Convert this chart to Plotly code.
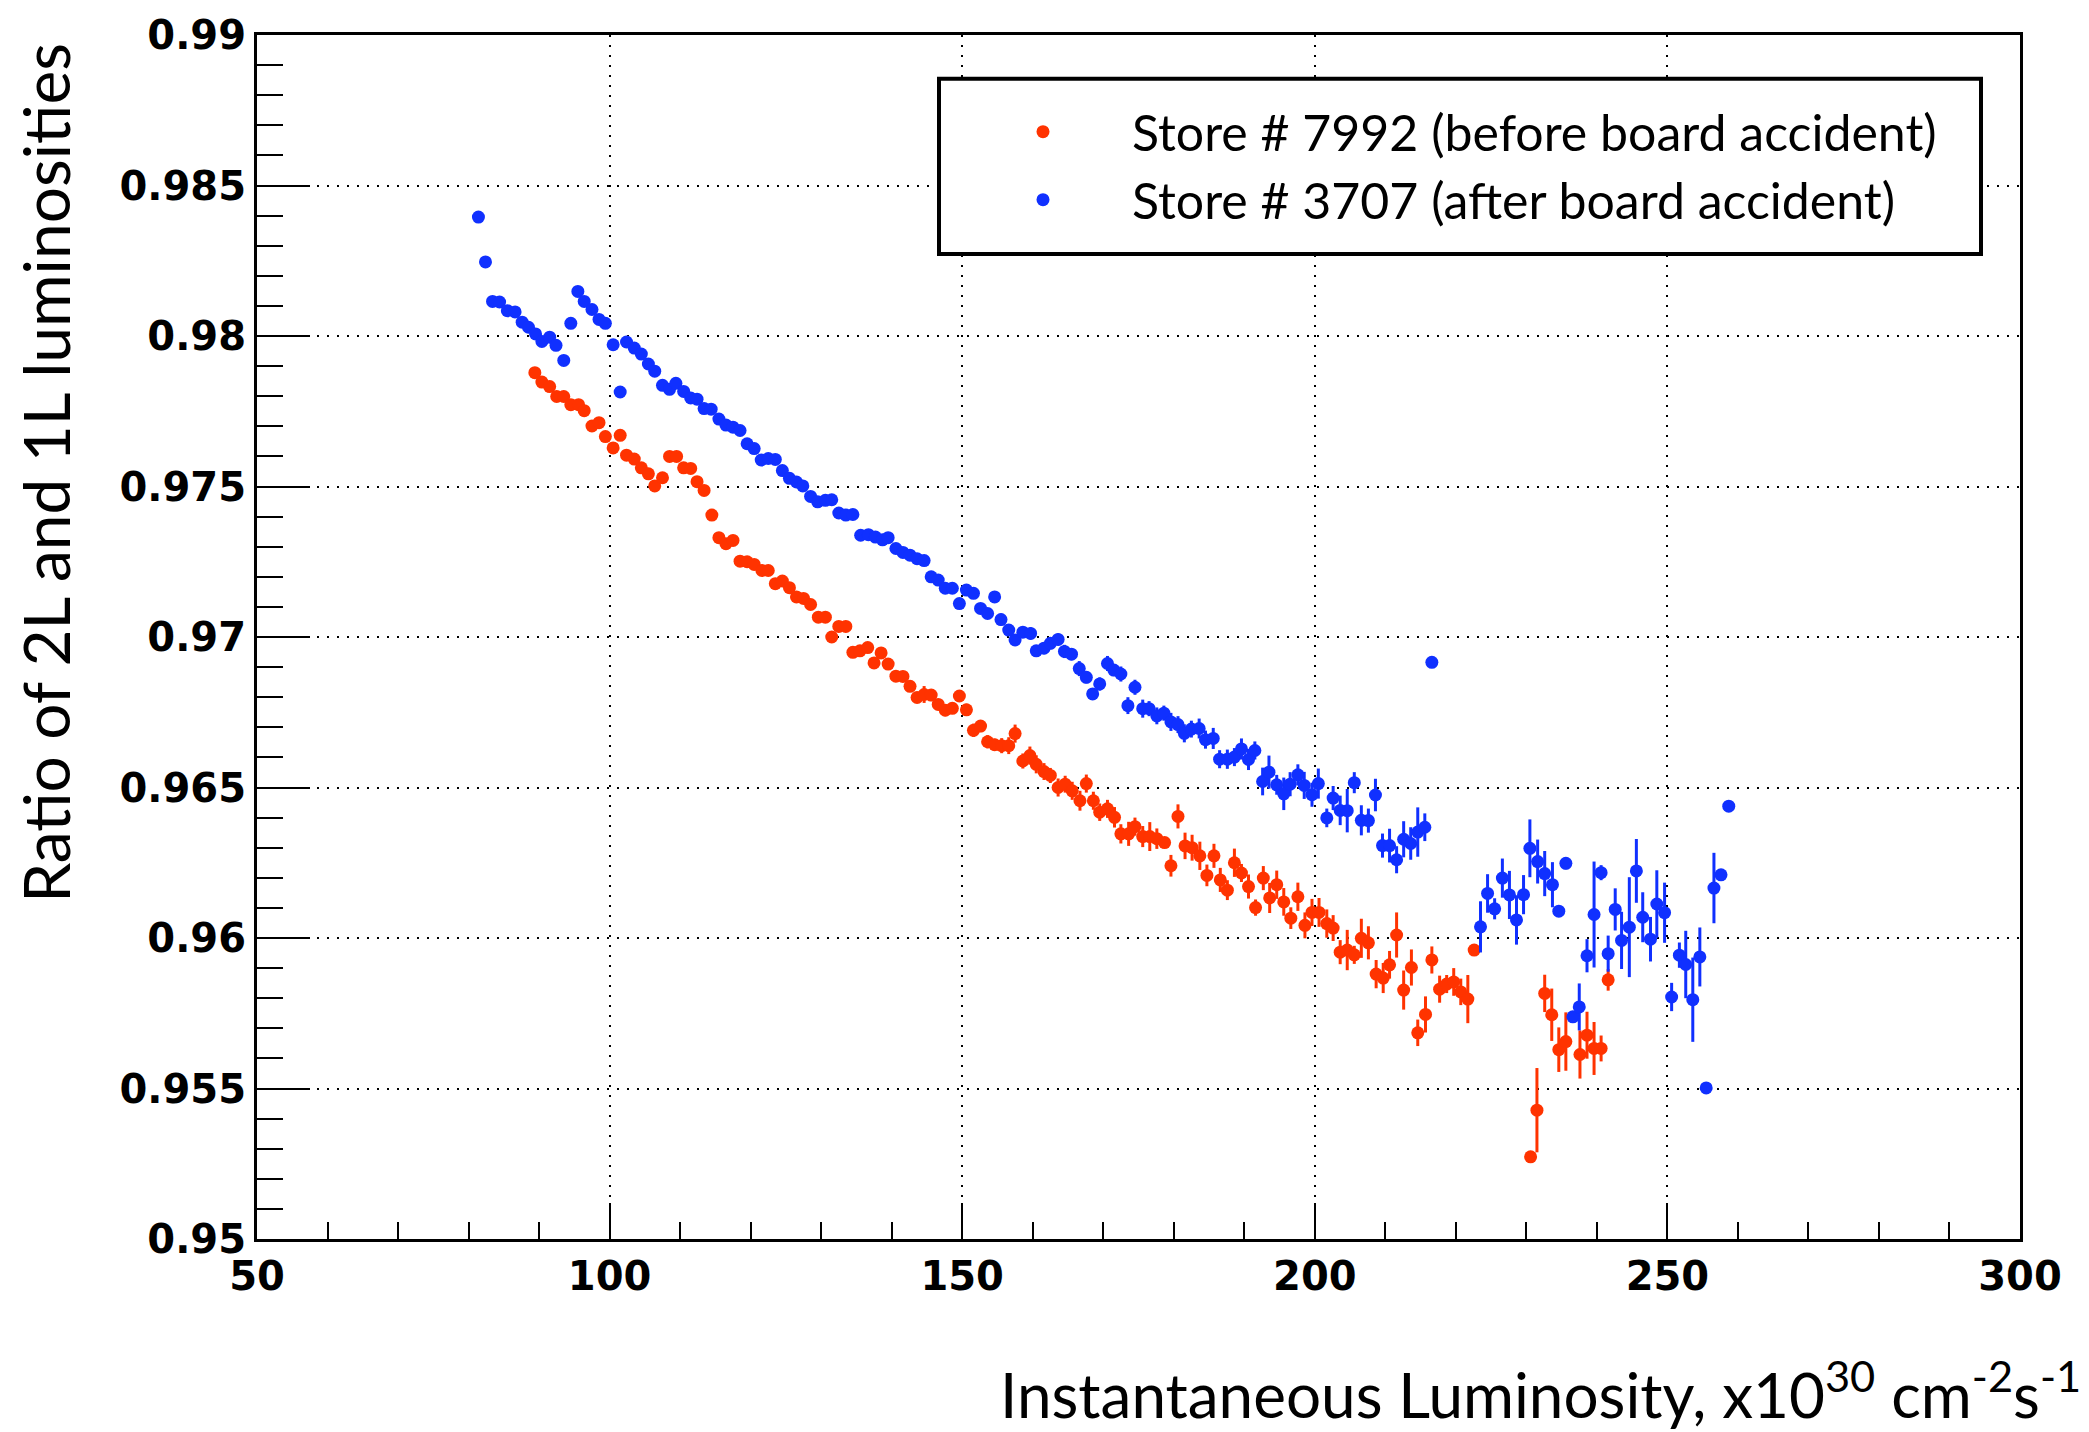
import plotly.graph_objects as go

# ---------------- data ----------------
red_x = [89.4, 90.4, 91.5, 92.5, 93.5, 94.5, 95.6, 96.4, 97.5, 98.5, 99.4, 100.5, 101.5, 102.4, 103.5,
         104.5, 105.5, 106.4, 107.5, 108.5, 109.5, 110.5, 111.5, 112.4, 113.4, 114.5, 115.5, 116.5,
         117.5, 118.5, 119.5, 120.5, 121.6, 122.5, 123.5, 124.5, 125.5, 126.5, 127.5, 128.5, 129.6,
         130.6, 131.5, 132.5, 133.5, 134.5, 135.5, 136.6, 137.5, 138.5, 139.5, 140.6, 141.6, 142.6,
         143.6, 144.6, 145.6, 146.6, 147.6, 148.6, 149.6, 150.6, 151.6, 152.6, 153.6, 154.6, 155.6,
         156.6, 157.5, 158.6, 159.6, 160.5, 161.6, 162.5, 163.6, 164.6, 165.6, 166.7, 167.6, 168.6,
         169.5, 170.6, 171.6, 172.5, 173.6, 174.5, 175.6, 176.6, 177.6, 178.7, 179.6, 180.6, 181.6,
         182.6, 183.7, 184.7, 185.7, 186.6, 187.6, 188.6, 189.6, 190.6, 191.6, 192.7, 193.6, 194.6,
         195.6, 196.6, 197.6, 198.6, 199.6, 200.6, 201.7, 202.6, 203.6, 204.6, 205.6, 206.6, 207.6,
         208.7, 209.7, 210.6, 211.6, 212.6, 213.7, 214.6, 215.7, 216.6, 217.7, 218.7, 219.7, 220.7,
         221.7, 222.6, 230.6, 231.5, 232.6, 233.6, 234.6, 235.6, 237.6, 238.6, 239.6, 240.6, 241.6]
red_y = [0.97878, 0.97847, 0.97832, 0.97799, 0.97799, 0.97772, 0.97772, 0.97752, 0.97701, 0.97712,
         0.97666, 0.97628, 0.97670, 0.97604, 0.97591, 0.97562, 0.97542, 0.97502, 0.97529, 0.97600,
         0.97600, 0.97562, 0.97560, 0.97516, 0.97487, 0.97405, 0.97330, 0.97310, 0.97321, 0.97252,
         0.97250, 0.97241, 0.97221, 0.97221, 0.97177, 0.97186, 0.97164, 0.97133, 0.97128, 0.97108,
         0.97066, 0.97066, 0.97000, 0.97035, 0.97035, 0.96949, 0.96954, 0.96965, 0.96914, 0.96947,
         0.96910, 0.96870, 0.96869, 0.96836, 0.96799, 0.96809, 0.96807, 0.96776, 0.96757, 0.96763,
         0.96804, 0.96758, 0.96690, 0.96704, 0.96652, 0.96642, 0.96639, 0.96639, 0.96679, 0.96588,
         0.96606, 0.96577, 0.96553, 0.96540, 0.96500, 0.96511, 0.96489, 0.96456, 0.96513, 0.96456,
         0.96418, 0.96429, 0.96401, 0.96346, 0.96346, 0.96370, 0.96337, 0.96337, 0.96330, 0.96317,
         0.96240, 0.96404, 0.96306, 0.96300, 0.96273, 0.96208, 0.96273, 0.96193, 0.96159, 0.96250,
         0.96216, 0.96171, 0.96101, 0.96199, 0.96133, 0.96177, 0.96120, 0.96066, 0.96137, 0.96042,
         0.96085, 0.96085, 0.96048, 0.96033, 0.95953, 0.95960, 0.95944, 0.95999, 0.95984, 0.95880,
         0.95867, 0.95911, 0.96010, 0.95827, 0.95902, 0.95685, 0.95746, 0.95927, 0.95830, 0.95847,
         0.95854, 0.95821, 0.95797, 0.95960, 0.95273, 0.95428, 0.95816, 0.95745, 0.95629, 0.95656,
         0.95613, 0.95677, 0.95633, 0.95633, 0.95861]
# error bars, laid out line by line like red_x
red_err = [0.00005, 0.00005, 0.00005, 0.00005, 0.00005, 0.00005, 0.00005, 0.00005, 0.00005, 0.00005,
           0.00005, 0.00005, 0.00005, 0.00005, 0.00005,
           0.00005, 0.00005, 0.00005, 0.00005, 0.00005, 0.00005, 0.00005, 0.00005, 0.00005, 0.00005,
           0.00005, 0.00005, 0.00005,
           0.00006, 0.00006, 0.00006, 0.00006, 0.00006, 0.00006, 0.00006, 0.00006, 0.00006, 0.00006,
           0.00006, 0.00006, 0.00006,
           0.00008, 0.00008, 0.00008, 0.00008, 0.00008, 0.00008, 0.00008, 0.00008, 0.00008, 0.00008,
           0.0001, 0.0001, 0.00015,
           0.00018, 0.00028, 0.0002, 0.00018, 0.0002, 0.00015, 0.0002, 0.0002, 0.00022, 0.0002,
           0.00022, 0.0002, 0.00025,
           0.00028, 0.0003, 0.00025, 0.0003, 0.0003, 0.00028, 0.00025, 0.0003, 0.00028, 0.0003,
           0.00033, 0.0003, 0.0003,
           0.00029, 0.0003, 0.00034, 0.00032, 0.0004, 0.0003, 0.00035, 0.00048, 0.00034, 0.00018,
           0.00036, 0.0004, 0.00044,
           0.00043, 0.00047, 0.00036, 0.0004, 0.0004, 0.00033, 0.00047, 0.0003, 0.0004, 0.00027,
           0.0004, 0.0005, 0.00047,
           0.00046, 0.00036, 0.00047, 0.00043, 0.00045, 0.00048, 0.00047, 0.00043, 0.0004, 0.00067,
           0.0003, 0.00065, 0.00055,
           0.00047, 0.0005, 0.00046, 0.00075, 0.00065, 0.0006, 0.00044, 0.0006, 0.00045, 0.00045,
           0.0003, 0.00046, 0.00044,
           0.0008, 0.0001, 0.0001, 0.0014, 0.00062, 0.00087, 0.00074, 0.00097, 0.0008, 0.00078,
           0.00088, 0.00043, 0.00036]

blue_x = [81.4, 82.4, 83.4, 84.4, 85.5, 86.6, 87.6, 88.5, 89.5, 90.4, 91.5, 92.4, 93.5, 94.5, 95.5,
          96.4, 97.5, 98.5, 99.4, 100.5, 101.5, 102.4, 103.5, 104.5, 105.5, 106.4, 107.5, 108.5,
          109.4, 110.5, 111.5, 112.4, 113.4, 114.4, 115.5, 116.5, 117.5, 118.5, 119.5, 120.5, 121.5,
          122.5, 123.5, 124.5, 125.5, 126.5, 127.4, 128.5, 129.5, 130.6, 131.5, 132.5, 133.5, 134.5,
          135.6, 136.7, 137.7, 138.7, 139.5, 140.6, 141.6, 142.6, 143.6, 144.6, 145.6, 146.6, 147.6,
          148.6, 149.6, 150.6, 151.6, 152.6, 153.6, 154.6, 155.5, 156.6, 157.5, 158.6, 159.7, 160.5,
          161.6, 162.5, 163.6, 164.5, 165.5, 166.6, 167.6, 168.5, 169.5, 170.6, 171.5, 172.5, 173.5,
          174.5, 175.6, 176.5, 177.6, 178.6, 179.6, 180.6, 181.5, 182.5, 183.6, 184.5, 185.6, 186.5,
          187.6, 188.6, 189.6, 190.6, 191.5, 192.6, 193.5, 194.6, 195.6, 196.5, 197.6, 198.5, 199.6,
          200.5, 201.7, 202.6, 203.6, 204.6, 205.6, 206.6, 207.6, 208.6, 209.6, 210.6, 211.6, 212.6,
          213.6, 214.6, 215.6, 216.6, 223.5, 224.5, 225.5, 226.6, 227.6, 228.6, 229.6, 230.5, 231.6,
          232.6, 233.7, 234.6, 235.6, 236.6, 237.5, 238.6, 239.6, 240.6, 241.6, 242.6, 243.5, 244.6,
          245.6, 246.5, 247.6, 248.5, 249.6, 250.6, 251.7, 252.6, 253.6, 254.6, 255.5, 256.6, 257.6,
          258.7]
blue_y = [0.98395, 0.98246, 0.98115, 0.98113, 0.98084, 0.98080, 0.98046, 0.98029, 0.98007, 0.97982,
          0.97996, 0.97969, 0.97919, 0.98042, 0.98148, 0.98115, 0.98088, 0.98055, 0.98042, 0.97971,
          0.97814, 0.97980, 0.97960, 0.97940, 0.97907, 0.97883, 0.97836, 0.97823, 0.97843, 0.97816,
          0.97794, 0.97790, 0.97759, 0.97757, 0.97724, 0.97704, 0.97697, 0.97686, 0.97642, 0.97626,
          0.97588, 0.97593, 0.97590, 0.97553, 0.97527, 0.97515, 0.97502, 0.97467, 0.97449, 0.97454,
          0.97456, 0.97412, 0.97405, 0.97407, 0.97338, 0.97340, 0.97332, 0.97323, 0.97330, 0.97294,
          0.97281, 0.97272, 0.97260, 0.97254, 0.97200, 0.97189, 0.97162, 0.97162, 0.97111, 0.97156,
          0.97145, 0.97095, 0.97078, 0.97133, 0.97058, 0.97023, 0.96990, 0.97016, 0.97012, 0.96954,
          0.96963, 0.96979, 0.96992, 0.96952, 0.96943, 0.96895, 0.96866, 0.96811, 0.96844, 0.96912,
          0.96890, 0.96877, 0.96772, 0.96833, 0.96762, 0.96762, 0.96738, 0.96747, 0.96718, 0.96709,
          0.96680, 0.96694, 0.96696, 0.96659, 0.96663, 0.96594, 0.96594, 0.96601, 0.96628, 0.96593,
          0.96623, 0.96520, 0.96551, 0.96509, 0.96479, 0.96511, 0.96542, 0.96507, 0.96476, 0.96513,
          0.96399, 0.96465, 0.96424, 0.96423, 0.96516, 0.96391, 0.96390, 0.96475, 0.96307, 0.96307,
          0.96260, 0.96328, 0.96314, 0.96352, 0.96368, 0.96916, 0.96037, 0.96148, 0.96097, 0.96199,
          0.96143, 0.96060, 0.96144, 0.96298, 0.96254, 0.96214, 0.96177, 0.96089, 0.96248, 0.95738,
          0.95771, 0.95941, 0.96078, 0.96217, 0.95948, 0.96095, 0.95992, 0.96036, 0.96223, 0.96069,
          0.95996, 0.96113, 0.96084, 0.95804, 0.95943, 0.95912, 0.95795, 0.95937, 0.95502, 0.96166,
          0.96210, 0.96438]
# error bars, laid out line by line like blue_x
blue_err = [0.0001, 0.00008, 0.00008, 0.00008, 0.00008, 0.00008, 0.00008, 0.00008, 0.00008, 0.00008,
            0.00008, 0.00008, 0.00008, 0.00008, 0.00008,
            0.00008, 0.00008, 0.00008, 0.00008, 0.00008, 0.00008, 0.00008, 0.00008, 0.00008, 0.00008,
            0.00008, 0.00008, 0.00008,
            0.00008, 0.00008, 0.00008, 0.00008, 0.00008, 0.00008, 0.00008, 0.00008, 0.00008, 0.00008,
            0.00008, 0.00008, 0.00008,
            0.0001, 0.0001, 0.0001, 0.0001, 0.0001, 0.0001, 0.0001, 0.0001, 0.0001, 0.0001,
            0.0001, 0.0001, 0.0001,
            0.0001, 0.0001, 0.0001, 0.0001, 0.0001, 0.00012, 0.00012, 0.00012, 0.00012, 0.00012,
            0.00012, 0.00012, 0.00012,
            0.00012, 0.00015, 0.00015, 0.00015, 0.00015, 0.00018, 0.00015, 0.0002, 0.00018, 0.0002,
            0.00015, 0.0002, 0.00018,
            0.0002, 0.0002, 0.0002, 0.00022, 0.0002, 0.00025, 0.0002, 0.00018, 0.00022, 0.00025,
            0.0002, 0.00025, 0.00028,
            0.00025, 0.0003, 0.00025, 0.00028, 0.00025, 0.0003, 0.00028, 0.0003, 0.00028, 0.00033,
            0.0003, 0.00035, 0.0003,
            0.00032, 0.0003, 0.00035, 0.00035, 0.0003, 0.00046, 0.00055, 0.00033, 0.00054, 0.0004,
            0.00035, 0.00045, 0.0004,
            0.0005, 0.00031, 0.0004, 0.00049, 0.00072, 0.00035, 0.0005, 0.0004, 0.00054, 0.0004,
            0.00056, 0.00045, 0.0006,
            0.00054, 0.00082, 0.00046, 0.00005, 0.00085, 0.00064, 0.00035, 0.00065, 0.0008, 0.00082,
            0.00065, 0.00096, 0.00073,
            0.00075, 0.00075, 0.00015, 0.0002, 0.0001, 0.00078, 0.00055, 0.00176, 0.00025, 0.0006,
            0.0007, 0.00095, 0.00166,
            0.00106, 0.00083, 0.00074, 0.00112, 0.001, 0.00047, 0.00042, 0.00112, 0.0014, 0.00098,
            0.00005, 0.00117, 0.0001,
            0.00005]

legend_names = ["Store # 7992 (before board accident)", "Store # 3707 (after board accident)"]
x_ticks = [50, 100, 150, 200, 250, 300]
y_ticks = [0.95, 0.955, 0.96, 0.965, 0.97, 0.975, 0.98, 0.985, 0.99]
y_tick_text = ["0.95", "0.955", "0.96", "0.965", "0.97", "0.975", "0.98", "0.985", "0.99"]

RED = "#ff3300"
BLUE = "#1030ff"
TITLE_FONT = "Lato"
TICK_FONT = "DejaVu Sans"

fig = go.Figure()
for xs, ys, es, col, name in [(red_x, red_y, red_err, RED, legend_names[0]),
                              (blue_x, blue_y, blue_err, BLUE, legend_names[1])]:
    fig.add_trace(go.Scatter(
        x=xs, y=ys, mode="markers", name=name,
        marker=dict(color=col, size=13, line=dict(width=0)),
        error_y=dict(type="data", array=es, visible=True, color=col, thickness=3, width=0),
    ))

axis_common = dict(
    showline=True, linecolor="black", linewidth=3, mirror=True,
    ticks="inside", tickcolor="black", tickwidth=2,
    showgrid=True, gridcolor="black", gridwidth=2, griddash="2px,8px",
    zeroline=False,
    tickfont=dict(family=TICK_FONT, size=40, color="black", weight="bold"),
)

fig.update_xaxes(range=[50, 300], tickvals=x_ticks, ticklen=36,
                 minor=dict(dtick=10, ticks="inside", ticklen=17, tickwidth=2, tickcolor="black",
                            showgrid=False),
                 **axis_common)
fig.update_yaxes(range=[0.95, 0.99], tickvals=y_ticks, ticktext=y_tick_text, ticklen=53,
                 minor=dict(dtick=0.001, ticks="inside", ticklen=26, tickwidth=2, tickcolor="black",
                            showgrid=False),
                 **axis_common)

# legend frame
fig.add_shape(type="rect", xref="paper", yref="paper",
              x0=(939 - 257) / 1763, x1=(1981 - 257) / 1763,
              y0=(1239 - 249) / 1210, y1=(1239 - 73) / 1210,
              line=dict(color="black", width=4), fillcolor="white", layer="above")

fig.update_layout(
    width=2089, height=1432,
    margin=dict(l=257, r=69, t=29, b=193),
    paper_bgcolor="white", plot_bgcolor="white",
    showlegend=True,
    legend=dict(x=(954 - 257) / 1763, y=(1239 - 87) / 1210, xanchor="left", yanchor="top",
                bgcolor="rgba(0,0,0,0)", borderwidth=0, itemwidth=168,
                font=dict(family=TITLE_FONT, size=50, color="black"), tracegroupgap=0),
    annotations=[
        dict(text="Ratio of 2L and 1L luminosities", xref="paper", yref="paper",
             x=(46 - 257) / 1763, y=(1239 - 469) / 1210, xanchor="center", yanchor="middle",
             textangle=-90, showarrow=False,
             font=dict(family=TITLE_FONT, size=64, color="black")),
        dict(text="Instantaneous Luminosity, x10<sup>30</sup> cm<sup>-2</sup>s<sup>-1</sup>",
             xref="paper", yref="paper",
             x=(2083 - 257) / 1763, y=(1239 - 1391) / 1210, xanchor="right", yanchor="middle",
             showarrow=False, font=dict(family=TITLE_FONT, size=62, color="black")),
    ],
)

fig.write_html("out.html")
